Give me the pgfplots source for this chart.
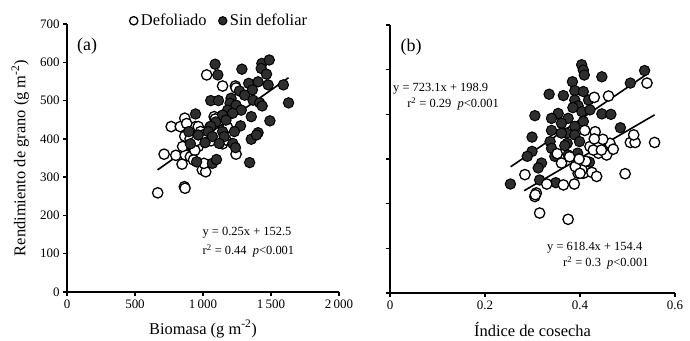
\documentclass[border=0pt]{standalone}
\usepackage{fontspec}
\setmainfont{Liberation Serif}
\usepackage{pgfplots}
\pgfplotsset{compat=1.18}
\definecolor{fillgray}{HTML}{2E2E2E}
\begin{document}
\begin{tikzpicture}
\path[use as bounding box] (0bp,0bp) rectangle (690bp,341bp);
\pgfplotsset{
  every axis/.append style={
    scale only axis,
    axis lines=left,
    axis line style={line width=1.6bp,-},
    tick style={line width=1.3bp,black},
    major tick length=4bp,
    tick align=outside,
    tick label style={font=\fontsize{13}{15}\selectfont},
    label style={font=\fontsize{16.5}{18}\selectfont},
    /pgf/number format/assume math mode=true,
    clip=false,
  },
  opn/.style={only marks,mark=*,mark size=5.2bp,mark options={fill=white,draw=black,line width=1.3bp}},
  fld/.style={only marks,mark=*,mark size=5.2bp,mark options={fill=fillgray,draw=black,line width=1bp}},
  reg/.style={black,line width=1.6bp,no marks},
}
% ---------------- panel (a)
\begin{axis}[at={(67bp,49bp)},anchor=south west,width=272bp,height=268bp,
  xmin=0,xmax=2000,ymin=0,ymax=700,
  xtick={0,500,1000,1500,2000},xticklabels={0,500,1\,000,1\,500,2\,000},
  ytick={0,100,200,300,400,500,600,700},
  xlabel={Biomasa (g m\textsuperscript{-2})},
  ylabel={Rendimiento de grano (g m\textsuperscript{-2})},
  xlabel style={at={(axis description cs:0.5,-0.138)},anchor=center},
  ylabel style={at={(axis description cs:-0.172,0.5)},anchor=center},
  legend columns=2,
  legend style={draw=none,fill=none,at={(0.56,1.012)},anchor=center,
    font=\fontsize{16.5}{18}\selectfont,
    /tikz/every odd column/.append style={column sep=1bp},
    /tikz/every even column/.append style={column sep=10bp}},
  legend image post style={scale=0.8},
]
\addplot[opn] table {
x y
667 259
863 275
868 271
714 360
766 432
833 432
866 454
1027 567
1144 538
1238 538
1243 533
800 357
846 334
920 362
866 407
945 432
995 319
1020 314
1007 336
965 432
1002 393
965 380
1082 458
1090 452
1243 360
1144 387
870 358
907 353
940 370
982 419
1169 397
850 380
905 400
930 345
1050 430
1000 410
880 440
1180 430
1060 395
950 395
};
\addlegendentry{Defoliado}
\addplot[fld] table {
x y
1089 595
1109 567
1286 582
1433 597
1487 606
1428 584
1467 569
1336 545
1405 549
1479 541
1591 541
1268 525
1363 528
1206 506
1306 514
1368 501
1057 500
1114 500
1199 493
1417 494
1629 494
1243 488
1181 475
1281 475
1435 486
945 465
1144 462
1218 467
1355 458
1492 447
1094 444
1169 449
1057 433
1276 434
895 419
1039 419
1144 419
1231 419
1405 416
965 410
1069 406
1156 406
1355 399
1393 410
1015 390
1119 388
1219 388
907 387
1239 377
1343 338
953 340
1069 336
1099 346
};
\addlegendentry{Sin defoliar}
\addplot[reg,forget plot] coordinates {(666,319.0) (1629,559.75)};
\node[font=\fontsize{18}{20}\selectfont] at (rel axis cs:0.074,0.918) {(a)};
\node[anchor=west,inner sep=0pt,font=\fontsize{12.5}{14}\selectfont] at (rel axis cs:0.498,0.22) {y = 0.25x + 152.5};
\node[anchor=west,inner sep=0pt,font=\fontsize{12.5}{14}\selectfont] at (rel axis cs:0.498,0.153) {r\textsuperscript{2} = 0.44\ \ \textit{p}<0.001};
\end{axis}
% ---------------- panel (b)
\begin{axis}[at={(390bp,48bp)},anchor=south west,width=285bp,height=268bp,
  xmin=0,xmax=0.6,ymin=100,ymax=700,
  xtick={0,0.2,0.4,0.6},xticklabels={0,0.2,0.4,0.6},
  ytick={100,200,300,400,500,600,700},yticklabels={},
  xlabel={Índice de cosecha},
  xlabel style={at={(axis description cs:0.5,-0.138)},anchor=center},
]
\addplot[fld] table {
x y
0.4035 611
0.407 599
0.409 588
0.446 584
0.384 573
0.536 598
0.506 570
0.335 545
0.365 542
0.389 553
0.407 551
0.389 532
0.418 532
0.396 519
0.385 515
0.354 502
0.305 497
0.340 491
0.375 491
0.404 506
0.421 510
0.446 501
0.465 500
0.361 480
0.389 473
0.407 484
0.340 464
0.299 449
0.485 470
0.372 458
0.389 454
0.399 439
0.337 439
0.340 424
0.373 435
0.299 417
0.289 406
0.347 406
0.375 409
0.395 413
0.460 422
0.420 393
0.319 391
0.312 380
0.315 353
0.2535 344
0.349 347
0.368 430
0.361 458
};
\addplot[opn] table {
x y
0.541 570
0.460 541
0.430 538
0.284 365
0.305 316
0.308 324
0.306 320
0.315 279
0.375 265
0.330 344
0.365 342
0.388 344
0.396 368
0.407 368
0.425 370
0.435 361
0.495 367
0.439 413
0.456 409
0.463 435
0.506 437
0.516 437
0.513 454
0.557 437
0.432 461
0.410 464
0.421 428
0.448 444
0.361 391
0.404 376
0.390 383
0.412 395
0.428 420
0.445 420
0.398 400
0.378 405
0.400 368
0.352 412
0.470 422
0.430 445
};
\addplot[reg] coordinates {(0.254,382.6) (0.541,590.1)};
\addplot[reg] coordinates {(0.2825,329.1) (0.557,498.8)};
\node[font=\fontsize{18}{20}\selectfont] at (rel axis cs:0.074,0.918) {(b)};
\node[anchor=west,inner sep=0pt,font=\fontsize{12.5}{14}\selectfont] at (rel axis cs:0.0105,0.762) {y = 723.1x + 198.9};
\node[anchor=west,inner sep=0pt,font=\fontsize{12.5}{14}\selectfont] at (rel axis cs:0.06,0.705) {r\textsuperscript{2} = 0.29\ \ \textit{p}<0.001};
\node[anchor=west,inner sep=0pt,font=\fontsize{12.5}{14}\selectfont] at (rel axis cs:0.551,0.168) {y = 618.4x + 154.4};
\node[anchor=west,inner sep=0pt,font=\fontsize{12.5}{14}\selectfont] at (rel axis cs:0.607,0.112) {r\textsuperscript{2} = 0.3\ \ \textit{p}<0.001};
\end{axis}
\end{tikzpicture}
\end{document}
